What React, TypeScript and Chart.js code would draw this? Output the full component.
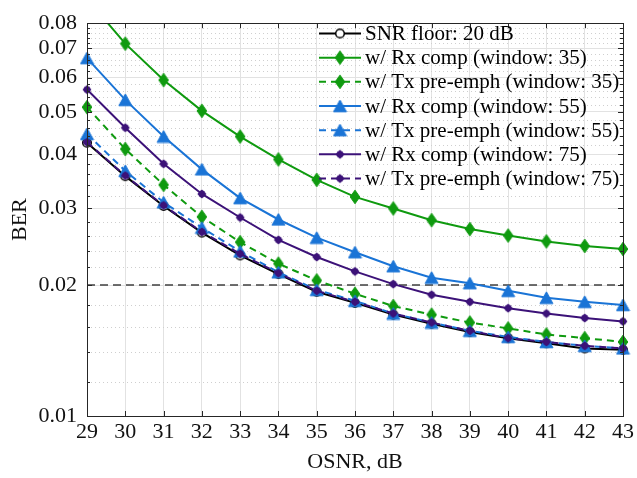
import React, { useEffect, useRef } from 'react';
import { Chart, registerables } from 'chart.js';
Chart.register(...registerables);

const osnr = [29, 30, 31, 32, 33, 34, 35, 36, 37, 38, 39, 40, 41, 42, 43];
const snrFloor = [0.0425, 0.0356, 0.0304, 0.0264, 0.0234, 0.0212, 0.0193, 0.0182, 0.0171, 0.0163, 0.0156, 0.0151, 0.0147, 0.0143, 0.0142];
const rx35 = [0.091, 0.0718, 0.0592, 0.0503, 0.0439, 0.0389, 0.0349, 0.0319, 0.0300, 0.0282, 0.0269, 0.0260, 0.0252, 0.0246, 0.0242];
const tx35 = [0.0513, 0.0411, 0.0340, 0.0287, 0.0251, 0.0224, 0.0205, 0.0191, 0.0179, 0.0171, 0.0164, 0.0159, 0.0154, 0.0151, 0.0148];
const rx55 = [0.0665, 0.0533, 0.0439, 0.0369, 0.0317, 0.0283, 0.0257, 0.0238, 0.0221, 0.0208, 0.0202, 0.0194, 0.0187, 0.0183, 0.0180];
const tx55 = [0.0445, 0.0366, 0.0310, 0.0271, 0.0239, 0.0214, 0.0195, 0.0184, 0.0172, 0.0164, 0.0157, 0.0152, 0.0148, 0.0145, 0.0143];
const rx75 = [0.0563, 0.0460, 0.0380, 0.0324, 0.0286, 0.0254, 0.0232, 0.0215, 0.0201, 0.0190, 0.0183, 0.0177, 0.0172, 0.0168, 0.0165];
const tx75 = [0.0426, 0.0357, 0.0305, 0.0265, 0.0236, 0.0213, 0.0194, 0.0183, 0.0172, 0.0164, 0.0157, 0.0151, 0.0148, 0.0145, 0.0143];
const refX = [29, 43];
const refY = [0.02, 0.02];

const seriesLabels = [
  'SNR floor: 20 dB',
  'w/ Rx comp (window: 35)',
  'w/ Tx pre-emph (window: 35)',
  'w/ Rx comp (window: 55)',
  'w/ Tx pre-emph (window: 55)',
  'w/ Rx comp (window: 75)',
  'w/ Tx pre-emph (window: 75)',
];
const yTickValues = [0.01, 0.02, 0.03, 0.04, 0.05, 0.06, 0.07, 0.08];
const yTickLabels = ['0.01', '0.02', '0.03', '0.04', '0.05', '0.06', '0.07', '0.08'];

const FONT = '"Liberation Serif", "Times New Roman", Times, serif';
const GREEN = '#0f9a0f';
const BLUE = '#1a74d6';
const PURPLE = '#3c1278';
const BLACK = '#000000';

// minor grid positions (every 0.002)
const yGridValues: number[] = [];
for (let k = 0; k <= 35; k++) yGridValues.push((10 + 2 * k) / 1000);
const isMajor = (v: number) => yTickValues.some((m) => Math.abs(m - v) < 1e-9);

function makeMarker(kind: string, color: string): HTMLCanvasElement {
  const c = document.createElement('canvas');
  let w = 12, h = 12;
  if (kind === 'diamond') { w = 12; h = 16; }
  if (kind === 'triangle') { w = 15; h = 14; }
  c.width = w; c.height = h;
  const g = c.getContext('2d')!;
  g.fillStyle = color; g.strokeStyle = color; g.lineWidth = 1;
  if (kind === 'circle') {
    g.beginPath(); g.arc(6, 6, 4.3, 0, Math.PI * 2);
    g.fillStyle = '#ffffff'; g.fill();
    g.lineWidth = 1.5; g.stroke();
  } else if (kind === 'diamond') {
    g.beginPath(); g.moveTo(6, 1.2); g.lineTo(10.8, 8); g.lineTo(6, 14.8); g.lineTo(1.2, 8); g.closePath();
    g.fill(); g.stroke();
  } else if (kind === 'triangle') {
    g.beginPath(); g.moveTo(7.5, 1); g.lineTo(14, 12.8); g.lineTo(1, 12.8); g.closePath();
    g.fill(); g.stroke();
  } else {
    g.beginPath(); g.arc(6, 6, 3.4, 0, Math.PI * 2); g.fill();
    g.beginPath(); g.moveTo(6, 1.5); g.lineTo(10.5, 6); g.lineTo(6, 10.5); g.lineTo(1.5, 6); g.closePath(); g.fill();
  }
  return c;
}

export default function App() {
  const ref = useRef<HTMLCanvasElement | null>(null);
  useEffect(() => {
    if (!ref.current) return;
    const mk = {
      circle: makeMarker('circle', BLACK),
      greenD: makeMarker('diamond', GREEN),
      blueT: makeMarker('triangle', BLUE),
      purp: makeMarker('purple', PURPLE),
    };
    const styles = [
      { color: BLACK, dash: [] as number[], marker: mk.circle },
      { color: GREEN, dash: [], marker: mk.greenD },
      { color: GREEN, dash: [7, 5], marker: mk.greenD },
      { color: BLUE, dash: [], marker: mk.blueT },
      { color: BLUE, dash: [7, 5], marker: mk.blueT },
      { color: PURPLE, dash: [], marker: mk.purp },
      { color: PURPLE, dash: [7, 5], marker: mk.purp },
    ];
    const series = [snrFloor, rx35, tx35, rx55, tx55, rx75, tx75];
    const datasets: any[] = series.map((s, i) => ({
      label: seriesLabels[i],
      data: osnr.map((x, j) => ({ x, y: s[j] })),
      borderColor: styles[i].color,
      backgroundColor: styles[i].color,
      borderWidth: 2,
      borderDash: styles[i].dash,
      pointStyle: styles[i].marker,
      pointRadius: 5,
      tension: 0,
      order: 10 - i,
      clip: { left: 12, right: 12, top: 0, bottom: 0 },
    }));
    datasets.push({
      label: 'ref',
      data: refX.map((x, j) => ({ x, y: refY[j] })),
      borderColor: '#404040',
      borderWidth: 1.6,
      borderDash: [8, 5],
      pointRadius: 0,
      order: 20,
    });

    const boxPlugin = {
      id: 'boxPlugin',
      beforeDatasetsDraw(chart: any) {
        const { ctx, chartArea: a, scales } = chart;
        const ys = scales.y;
        ctx.save();
        ctx.strokeStyle = '#cfcfcf';
        ctx.lineWidth = 1;
        ctx.setLineDash([1, 3]);
        yGridValues.forEach((v) => {
          if (isMajor(v)) return;
          const y = Math.round(ys.getPixelForValue(v)) + 0.5;
          ctx.beginPath(); ctx.moveTo(a.left, y); ctx.lineTo(a.right, y); ctx.stroke();
        });
        ctx.restore();
      },
      afterDatasetsDraw(chart: any) {
        const { ctx, chartArea: a, scales } = chart;
        const xs = scales.x, ys = scales.y;
        ctx.save();
        ctx.strokeStyle = '#262626';
        ctx.lineWidth = 1;
        ctx.setLineDash([]);
        ctx.strokeRect(Math.round(a.left) + 0.5, Math.round(a.top) + 0.5, Math.round(a.right - a.left), Math.round(a.bottom - a.top));
        ctx.beginPath();
        osnr.forEach((v) => {
          const x = Math.round(xs.getPixelForValue(v)) + 0.5;
          ctx.moveTo(x, a.bottom); ctx.lineTo(x, a.bottom - 5);
          ctx.moveTo(x, a.top); ctx.lineTo(x, a.top + 5);
        });
        yGridValues.forEach((v) => {
          const len = isMajor(v) ? 5 : 3;
          const y = Math.round(ys.getPixelForValue(v)) + 0.5;
          ctx.moveTo(a.left, y); ctx.lineTo(a.left + len, y);
          ctx.moveTo(a.right, y); ctx.lineTo(a.right - len, y);
        });
        ctx.stroke();
        ctx.restore();
      },
      afterDraw(chart: any) {
        const { ctx } = chart;
        ctx.save();
        ctx.font = '21px ' + FONT;
        ctx.textBaseline = 'middle';
        ctx.textAlign = 'left';
        styles.forEach((s, i) => {
          const y = 33.5 + i * 24.17;
          ctx.strokeStyle = s.color;
          ctx.lineWidth = 2;
          ctx.setLineDash(s.dash);
          ctx.beginPath(); ctx.moveTo(319, y); ctx.lineTo(361, y); ctx.stroke();
          ctx.setLineDash([]);
          const m = s.marker;
          ctx.drawImage(m, 340 - m.width / 2, y - m.height / 2);
          ctx.fillStyle = '#000';
          ctx.fillText(seriesLabels[i], 365, y + 1);
        });
        ctx.restore();
      },
    };

    const chart = new Chart(ref.current, {
      type: 'line',
      data: { datasets },
      plugins: [boxPlugin],
      options: {
        animation: false,
        responsive: false,
        devicePixelRatio: 1,
        layout: { padding: { top: 16, right: 13, left: 0, bottom: 0 } },
        plugins: { legend: { display: false }, tooltip: { enabled: false } },
        scales: {
          x: {
            type: 'linear',
            min: 29,
            max: 43,
            ticks: { stepSize: 1, font: { family: FONT, size: 22 }, color: '#111', padding: 3, maxRotation: 0, autoSkip: false },
            grid: { color: '#e2e2e2', lineWidth: 1, drawTicks: false },
            border: { display: false },
            title: { display: true, text: 'OSNR, dB', font: { family: FONT, size: 22 }, color: '#111', padding: { top: 0, bottom: 3 } },
            afterFit: (s: any) => { s.height = 62; },
          },
          y: {
            type: 'logarithmic',
            min: 0.01,
            max: 0.08,
            afterBuildTicks: (s: any) => { s.ticks = yGridValues.map((v) => ({ value: v })); },
            ticks: {
              autoSkip: false,
              font: { family: FONT, size: 22 },
              color: '#111',
              padding: 10,
              callback: (value: any) => {
                const i = yTickValues.findIndex((m) => Math.abs(m - Number(value)) < 1e-9);
                return i >= 0 ? yTickLabels[i] : '';
              },
            },
            grid: {
              drawTicks: false,
              lineWidth: 1,
              color: (ctx: any) => (ctx.tick && isMajor(ctx.tick.value) ? '#e2e2e2' : 'rgba(0,0,0,0)'),
            },
            border: { display: false },
            title: { display: true, text: 'BER', font: { family: FONT, size: 22 }, color: '#111', padding: { top: 7, bottom: 0 } },
            afterFit: (s: any) => { s.width = 87; },
          },
        },
      },
    });
    return () => chart.destroy();
  }, []);
  return (
    <div style={{ position: 'fixed', left: 0, top: 0, width: 637, height: 478, background: '#fff' }}>
      <canvas ref={ref} width={637} height={478} style={{ width: 637, height: 478 }} />
    </div>
  );
}
